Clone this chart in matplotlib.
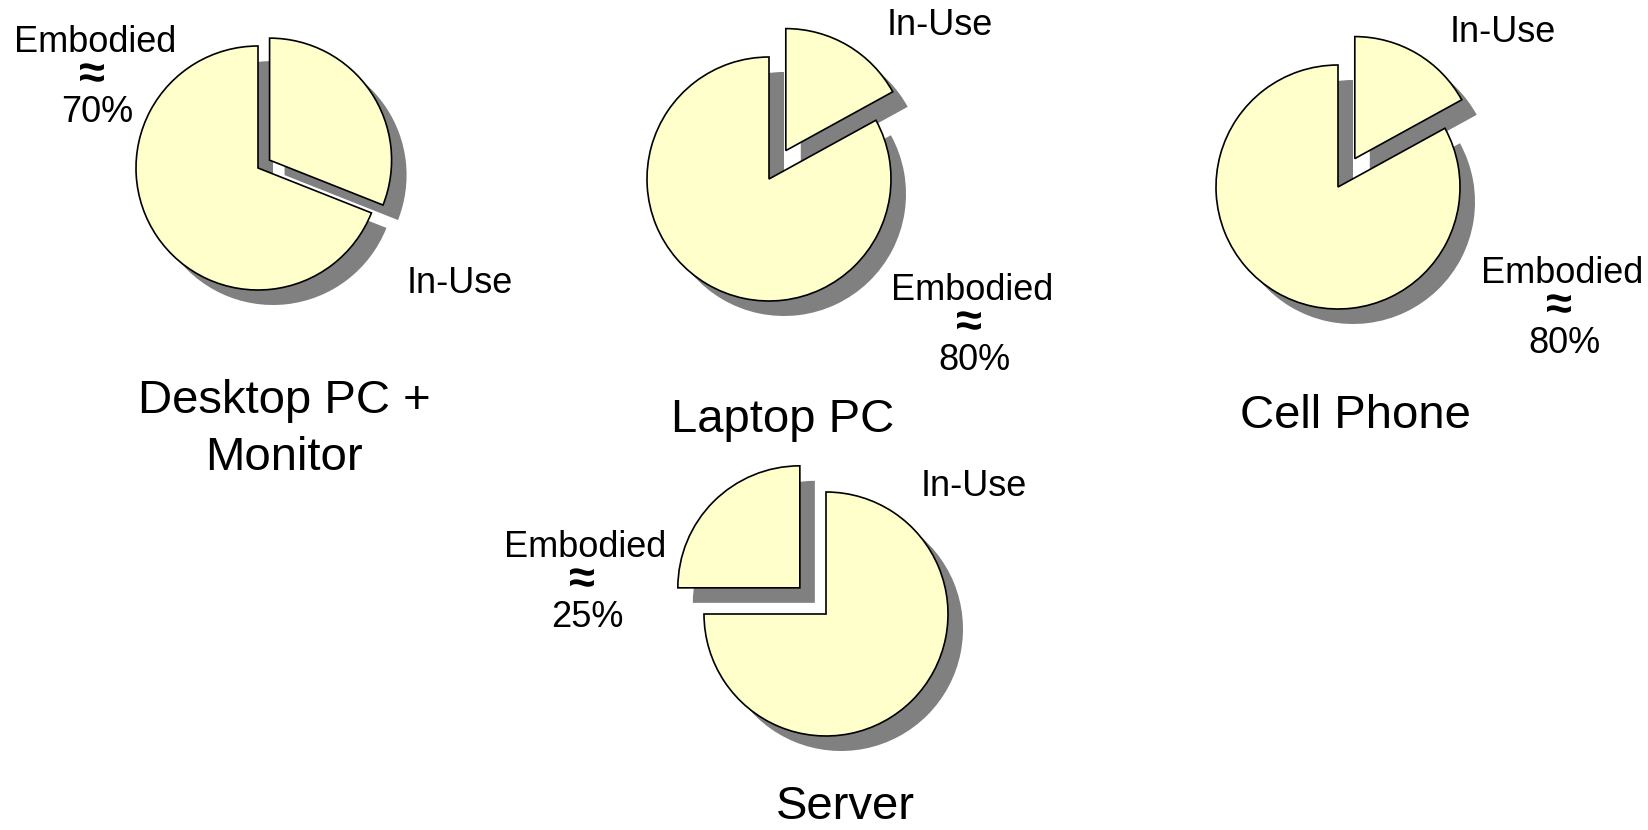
import matplotlib
matplotlib.use('Agg')
import matplotlib.pyplot as plt

plt.rcParams['font.family'] = ['Liberation Sans', 'DejaVu Sans']

# data
devices = ['Desktop PC +\nMonitor', 'Laptop PC', 'Cell Phone', 'Server']
embodied = [69, 83, 83, 25]
in_use = [31, 17, 17, 75]
embodied_labels = ['70%', '80%', '80%', '25%']
exploded_slice = ['in_use', 'in_use', 'in_use', 'embodied']

# layout (pixels, y measured from the top)
W, H = 1649, 830
centers = [(258, 168), (769, 179), (1338, 187), (826, 614)]
radius = 122
explode_px = [14, 33, 33, 37]
shadow = 15
emb_text_x = [95, 972, 1562, 585]
emb_text_y = [52, 300, 283, 557]          # baseline of "Embodied"
inuse_text = [(460, 293), (940, 35), (1503, 42), (974, 496)]
title_pos = [(284, 413), (783, 432), (1355, 428), (845, 819)]

fill = '#FFFFCC'
shade = '#808080'

fig = plt.figure(figsize=(W / 100, H / 100), dpi=100)
ax = fig.add_axes([0, 0, 1, 1])

def up(y):
    return H - y

# shadows first, then the pies on top
for i in range(4):
    vals = [embodied[i], in_use[i]]
    ex = explode_px[i]
    explode = [0, ex] if exploded_slice[i] == 'in_use' else [ex, 0]
    cx, cy = centers[i]
    ax.pie(vals, startangle=90, counterclock=True, explode=explode,
           center=(cx + shadow, up(cy + shadow)), radius=radius,
           colors=[shade, shade], wedgeprops=dict(linewidth=0))

for i in range(4):
    vals = [embodied[i], in_use[i]]
    ex = explode_px[i]
    explode = [0, ex] if exploded_slice[i] == 'in_use' else [ex, 0]
    cx, cy = centers[i]
    ax.pie(vals, startangle=90, counterclock=True, explode=explode,
           center=(cx, up(cy)), radius=radius,
           colors=[fill, fill],
           wedgeprops=dict(edgecolor='black', linewidth=1.2))

fs = 26
for i in range(4):
    x = emb_text_x[i]
    y = emb_text_y[i]
    ax.text(x, up(y), 'Embodied', fontsize=fs, ha='center', va='baseline')
    ax.text(x - 3, up(y + 36), '\u2248', fontsize=34, fontweight='bold',
            ha='center', va='baseline')
    ax.text(x + 2, up(y + 70), embodied_labels[i], fontsize=fs,
            ha='center', va='baseline')
    ix, iy = inuse_text[i]
    ax.text(ix, up(iy), 'In-Use', fontsize=fs, ha='center', va='baseline')

    tx, ty = title_pos[i]
    lines = devices[i].split('\n')
    for k, line in enumerate(lines):
        ax.text(tx, up(ty + 57 * k), line, fontsize=34, ha='center', va='baseline')

ax.set_xlim(0, W)
ax.set_ylim(0, H)
ax.set_aspect('equal')
ax.axis('off')

fig.savefig('out.png', dpi=100)
